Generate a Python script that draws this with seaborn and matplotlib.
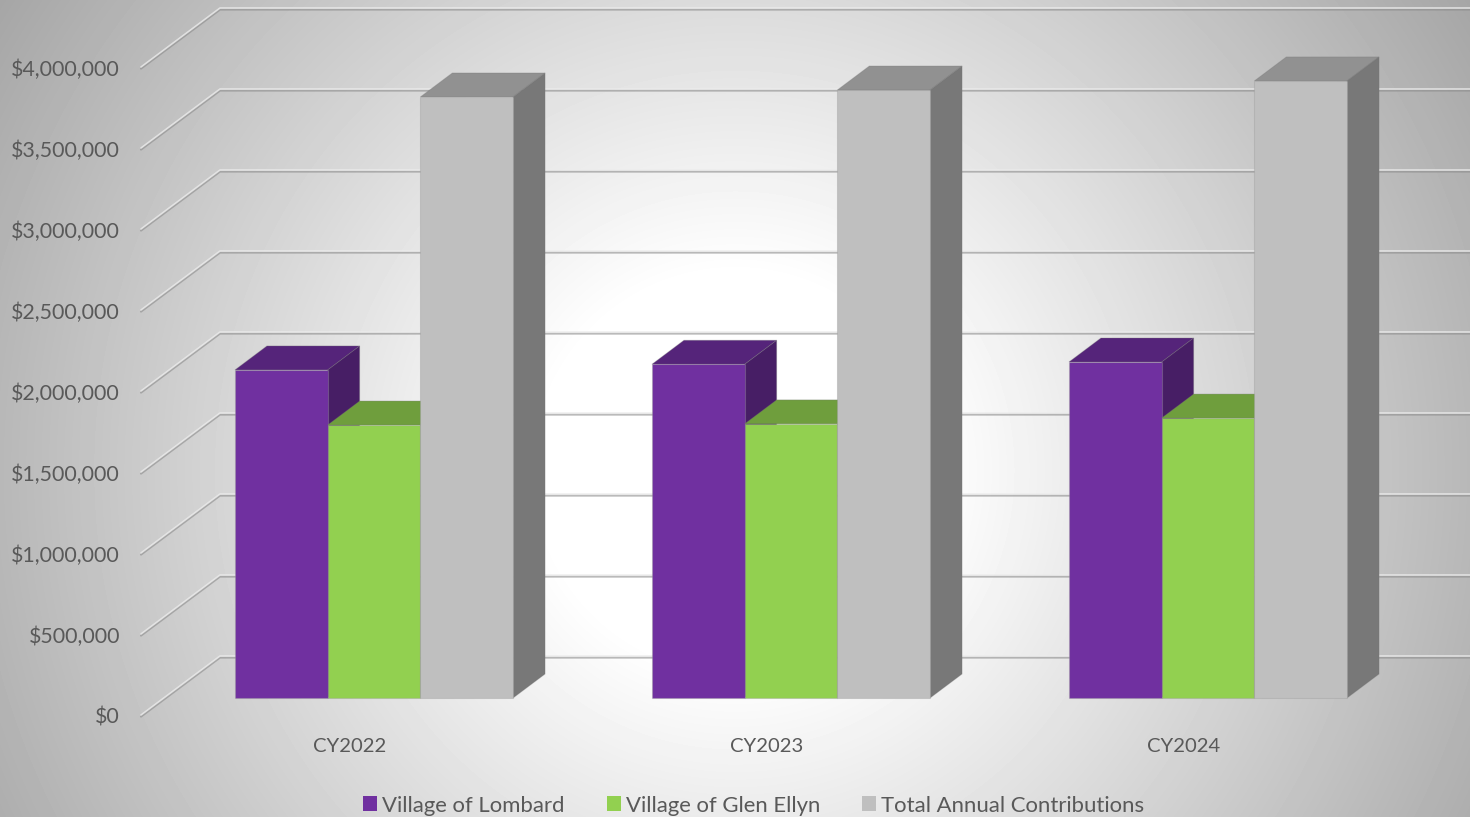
import numpy as np
import pandas as pd
import matplotlib
matplotlib.use("Agg")
import matplotlib.pyplot as plt
import matplotlib.transforms as mtrans
from matplotlib.patches import Polygon
import seaborn as sns

years = ["CY2022", "CY2023", "CY2024"]
lombard = [2025000, 2060000, 2074000]
glen_ellyn = [1685000, 1692000, 1728000]
total = [3710000, 3753000, 3809000]
series_names = ["Village of Lombard", "Village of Glen Ellyn", "Total Annual Contributions"]
series_colors = ["#7030A0", "#92D050", "#BFBFBF"]
tick_values = [0, 500000, 1000000, 1500000, 2000000, 2500000, 3000000, 3500000, 4000000]
tick_labels = ["$0", "$500,000", "$1,000,000", "$1,500,000", "$2,000,000",
               "$2,500,000", "$3,000,000", "$3,500,000", "$4,000,000"]

W, H = 1470, 817
PX_X0, PX_GROUP = 374.0, 417.0      # pixel of first group centre, pixels between groups
PX_Y0, PX_PER_UNIT = 698.0, 81.0 / 500000.0


def dx(px):
    return px / PX_GROUP


def dy(px):
    return px / PX_PER_UNIT


sns.set_style("white")
plt.rcParams["font.family"] = ["Lato", "DejaVu Sans"]
TEXT = "#595959"

fig = plt.figure(figsize=(W / 100, H / 100), dpi=100)
ax = fig.add_axes([0, 0, 1, 1])

xlim = ((0 - PX_X0) / PX_GROUP, (W - PX_X0) / PX_GROUP)
ylim = (-(H - PX_Y0) / PX_PER_UNIT, PX_Y0 / PX_PER_UNIT)

# background: radial shade with a flat bright centre
yy, xx = np.mgrid[0:H, 0:W]
dist = np.hypot(xx - 735, yy - 470)
shade = 1 - np.clip(0.132 * (dist - 196) / 255, 0, 0.4)
ax.imshow(shade, extent=[xlim[0], xlim[1], ylim[0], ylim[1]], aspect="auto",
          cmap="gray", vmin=0, vmax=1, zorder=0, interpolation="bilinear")

df = pd.DataFrame({
    "year": years * 3,
    "series": np.repeat(series_names, 3),
    "value": lombard + glen_ellyn + total,
})
sns.barplot(data=df, x="year", y="value", hue="series", order=years, hue_order=series_names,
            palette=series_colors, width=3 * 92.7 / PX_GROUP, gap=0, dodge=True, saturation=1,
            edgecolor=(0.6, 0.6, 0.6, 0.35), linewidth=0.8, ax=ax, errorbar=None)

# 3D wall gridlines (side wall diagonal + back wall line)
WALL_X, WALL_LIFT, WALL_START, WALL_DROP = 220.0, 42.0, 141.0, 59.0
for v in tick_values:
    yb = v + dy(WALL_LIFT)
    xs = [(WALL_START - PX_X0) / PX_GROUP, (WALL_X - PX_X0) / PX_GROUP, xlim[1]]
    ys = [yb - dy(WALL_DROP), yb, yb]
    ax.plot(xs, np.array(ys) - dy(1.6), color="#8c8c8c", alpha=0.6, lw=1.5, zorder=1.5,
            solid_joinstyle="round")
    ax.plot(xs, ys, color="#ececec", alpha=0.8, lw=1.2, zorder=1.6,
            solid_joinstyle="round", solid_capstyle="round")

# 3D faces of the bars
DEPTH_X, DEPTH_Y = dx(32), dy(24)
TOP_SHADE, SIDE_SHADE = 0.76, 0.63
EDGE = (0.45, 0.45, 0.45, 0.3)
for i, cont in enumerate(ax.containers):
    base = np.array(matplotlib.colors.to_rgb(series_colors[i]))
    for bar in cont:
        x0, w, h = bar.get_x(), bar.get_width(), bar.get_height()
        z = 3 + i
        bar.set_zorder(z + 0.2)
        top = [(x0, h), (x0 + w, h), (x0 + w + DEPTH_X, h + DEPTH_Y), (x0 + DEPTH_X, h + DEPTH_Y)]
        side = [(x0 + w, 0), (x0 + w + DEPTH_X, DEPTH_Y), (x0 + w + DEPTH_X, h + DEPTH_Y), (x0 + w, h)]
        ax.add_patch(Polygon(top, closed=True, facecolor=base * TOP_SHADE, edgecolor=EDGE, lw=0.7, zorder=z))
        ax.add_patch(Polygon(side, closed=True, facecolor=base * SIDE_SHADE, edgecolor=EDGE, lw=0.7, zorder=z + 0.1))

ax.set_xlim(*xlim)
ax.set_ylim(*ylim)
ax.set_xlabel("")
ax.set_ylabel("")
for s in ax.spines.values():
    s.set_visible(False)
ax.grid(False)

# y ticks sit on the front of the side wall, x labels under the bars
ax.set_yticks(tick_values)
ax.set_yticklabels(tick_labels)
ax.set_xticks(np.arange(len(years)) - dx(24))
ax.set_xticklabels(years)
ax.tick_params(axis="y", length=0, pad=-120 * 0.72, labelsize=15.4, labelcolor=TEXT)
ax.tick_params(axis="x", length=0, pad=-(H - 738.5) * 0.72, labelsize=14.6, labelcolor=TEXT)
shift = mtrans.ScaledTranslation(0, -18 / 100, fig.dpi_scale_trans)
for lab in ax.get_yticklabels():
    lab.set_transform(lab.get_transform() + shift)

handles, labels = ax.get_legend_handles_labels()
for hd in handles:
    hd.set_edgecolor("none")
fs = 15.9
fpx = fs / 0.72
ax.legend(handles, labels, loc="center", bbox_to_anchor=(753.5 / W, 1 - 805.5 / H), ncol=3,
          frameon=False, fontsize=fs, labelcolor=TEXT, borderpad=0, borderaxespad=0,
          handlelength=14 / fpx, handleheight=14 / fpx, handletextpad=5 / fpx, columnspacing=42 / fpx)

fig.savefig("out.png", dpi=100)
